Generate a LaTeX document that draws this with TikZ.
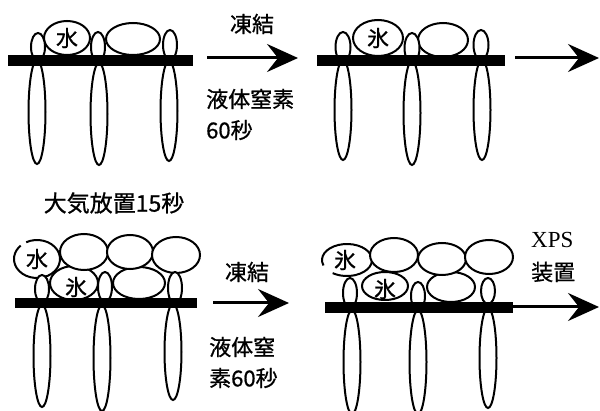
\documentclass[tikz,border=0pt]{standalone}
\usepackage{fontspec}
\setmainfont{Liberation Serif}
\newfontfamily\jp{Noto Sans CJK JP}[FakeBold=0.8]
\usetikzlibrary{arrows.meta}

\tikzset{
  membrane/.style={fill=black},
  lipid/.style={draw, line width=2pt, fill=white},
  drop/.style={draw, line width=2pt, fill=white},
  jplabel/.style={font=\jp\fontsize{22}{26}\selectfont, inner sep=0pt},
  steplabel/.style={font=\jp\fontsize{22}{26}\selectfont, inner sep=0pt},
  latinlabel/.style={font=\fontsize{23}{26}\selectfont, inner sep=0pt},
  flow/.style={line width=3pt, -{Stealth[length=31pt,width=28pt,inset=11pt]}},
}

\begin{document}
\begin{tikzpicture}[x=1pt, y=-1pt]
\useasboundingbox (0,0) rectangle (600,411);

% ---------- stage 1: water drop on the surface ----------
\draw[drop] (67,38) ellipse [x radius=23, y radius=17];
\draw[drop] (133,39) ellipse [x radius=27, y radius=16];
\node[jplabel] (water1) at (67,38) {水};
\foreach \x/\yc/\ry in {37/112/52, 99/114/51, 169/111/50}
  \draw[lipid] (\x,\yc) ellipse [x radius=8.5, y radius=\ry];
\foreach \x/\yc/\ry in {38/47/14, 98/47/15, 170/45/15}
  \draw[lipid] (\x,\yc) ellipse [x radius=7, y radius=\ry];
\fill[membrane] (8,55) rectangle (193,66);

% arrow 1 with its labels
\coordinate (a1s) at (207,58);
\coordinate (a1e) at (298,58);
\draw[flow] (a1s) -- (a1e);
\node[steplabel] (freeze1) at (252,24) {凍結};
\node[steplabel, anchor=west] (ln1) at (206,99) {液体窒素};
\node[steplabel, anchor=west] (t1) at (206,130) {60秒};

% ---------- stage 2: frozen drop ----------
\draw[drop] (378,38) ellipse [x radius=25, y radius=18];
\draw[drop] (443,40) ellipse [x radius=25, y radius=17];
\node[jplabel] (ice2) at (378,38) {氷};
\foreach \x/\yc/\ry in {343/110/50, 412/113/52, 482/110/50}
  \draw[lipid] (\x,\yc) ellipse [x radius=8.5, y radius=\ry];
\foreach \x/\yc/\ry in {343/47/15, 412/48/15, 481/45/15}
  \draw[lipid] (\x,\yc) ellipse [x radius=7.5, y radius=\ry];
\fill[membrane] (317,55) rectangle (505,66);

\coordinate (a2s) at (515,58);
\coordinate (a2e) at (599,58);
\draw[flow] (a2s) -- (a2e);

% ---------- stage 3: after 15 s in air ----------
\node[font=\jp\fontsize{23}{26}\selectfont, inner sep=0pt] (air) at (114,203) {大気放置15秒};

% lower layer
\draw[drop] (74,283) ellipse [x radius=24, y radius=17];
\draw[drop] (139,283) ellipse [x radius=26, y radius=16];
% upper layer
\fill[white] (37,259) ellipse [x radius=23, y radius=19];
\draw[line width=2pt] (37,259) ++(-118:23 and 19) arc [start angle=-118, end angle=225, x radius=23, y radius=19];
\draw[drop] (84,252) ellipse [x radius=24, y radius=18];
\draw[drop] (130,252) ellipse [x radius=23, y radius=17];
\draw[drop] (176,255) ellipse [x radius=24, y radius=18];
\node[jplabel] (water3) at (37,259) {水};
\node[jplabel] (ice3) at (76,287) {氷};
\foreach \x/\yc/\ry in {42/356/51, 102/358/53, 173/352/48}
  \draw[lipid] (\x,\yc) ellipse [x radius=8.5, y radius=\ry];
\foreach \x/\yc/\ry in {42/289/14, 105/287/15, 175/288/16}
  \draw[lipid] (\x,\yc) ellipse [x radius=7, y radius=\ry];
\fill[membrane] (15,298) rectangle (197,308);

\coordinate (a3s) at (213,303);
\coordinate (a3e) at (289,303);
\draw[flow] (a3s) -- (a3e);
\node[steplabel] (freeze3) at (247,272) {凍結};
\node[steplabel, anchor=west] (ln3) at (209,347) {液体窒};
\node[steplabel, anchor=west] (t3) at (209,378) {素60秒};

% ---------- stage 4: frozen layers ----------
\draw[drop] (385,286) ellipse [x radius=23, y radius=14];
\draw[drop] (451,287) ellipse [x radius=24, y radius=15];
\fill[white] (347,260) ellipse [x radius=25, y radius=16];
\draw[line width=2pt] (347,260) ++(-200:25 and 16) arc [start angle=-200, end angle=125, x radius=25, y radius=16];
\draw[drop] (394,255) ellipse [x radius=24, y radius=17];
\draw[drop] (442,259) ellipse [x radius=24, y radius=16];
\draw[drop] (489,257) ellipse [x radius=24, y radius=17];
\node[jplabel] (ice4a) at (345,260) {氷};
\node[jplabel] (ice4b) at (385,289) {氷};
\foreach \x/\yc/\ry in {352/362/52, 418/362/52, 488/358/50}
  \draw[lipid] (\x,\yc) ellipse [x radius=8.5, y radius=\ry];
\foreach \x/\yc/\ry in {350/293/15, 418/296/14, 488/291/13}
  \draw[lipid] (\x,\yc) ellipse [x radius=7, y radius=\ry];
\fill[membrane] (325,302) rectangle (513,313);

\coordinate (a4s) at (513,307);
\coordinate (a4e) at (599,307);
\draw[flow] (a4s) -- (a4e);
\node[latinlabel, anchor=west] (xps) at (531,240) {XPS};
\node[steplabel, anchor=west] (dev) at (531,272) {装置};

\end{tikzpicture}
\end{document}
